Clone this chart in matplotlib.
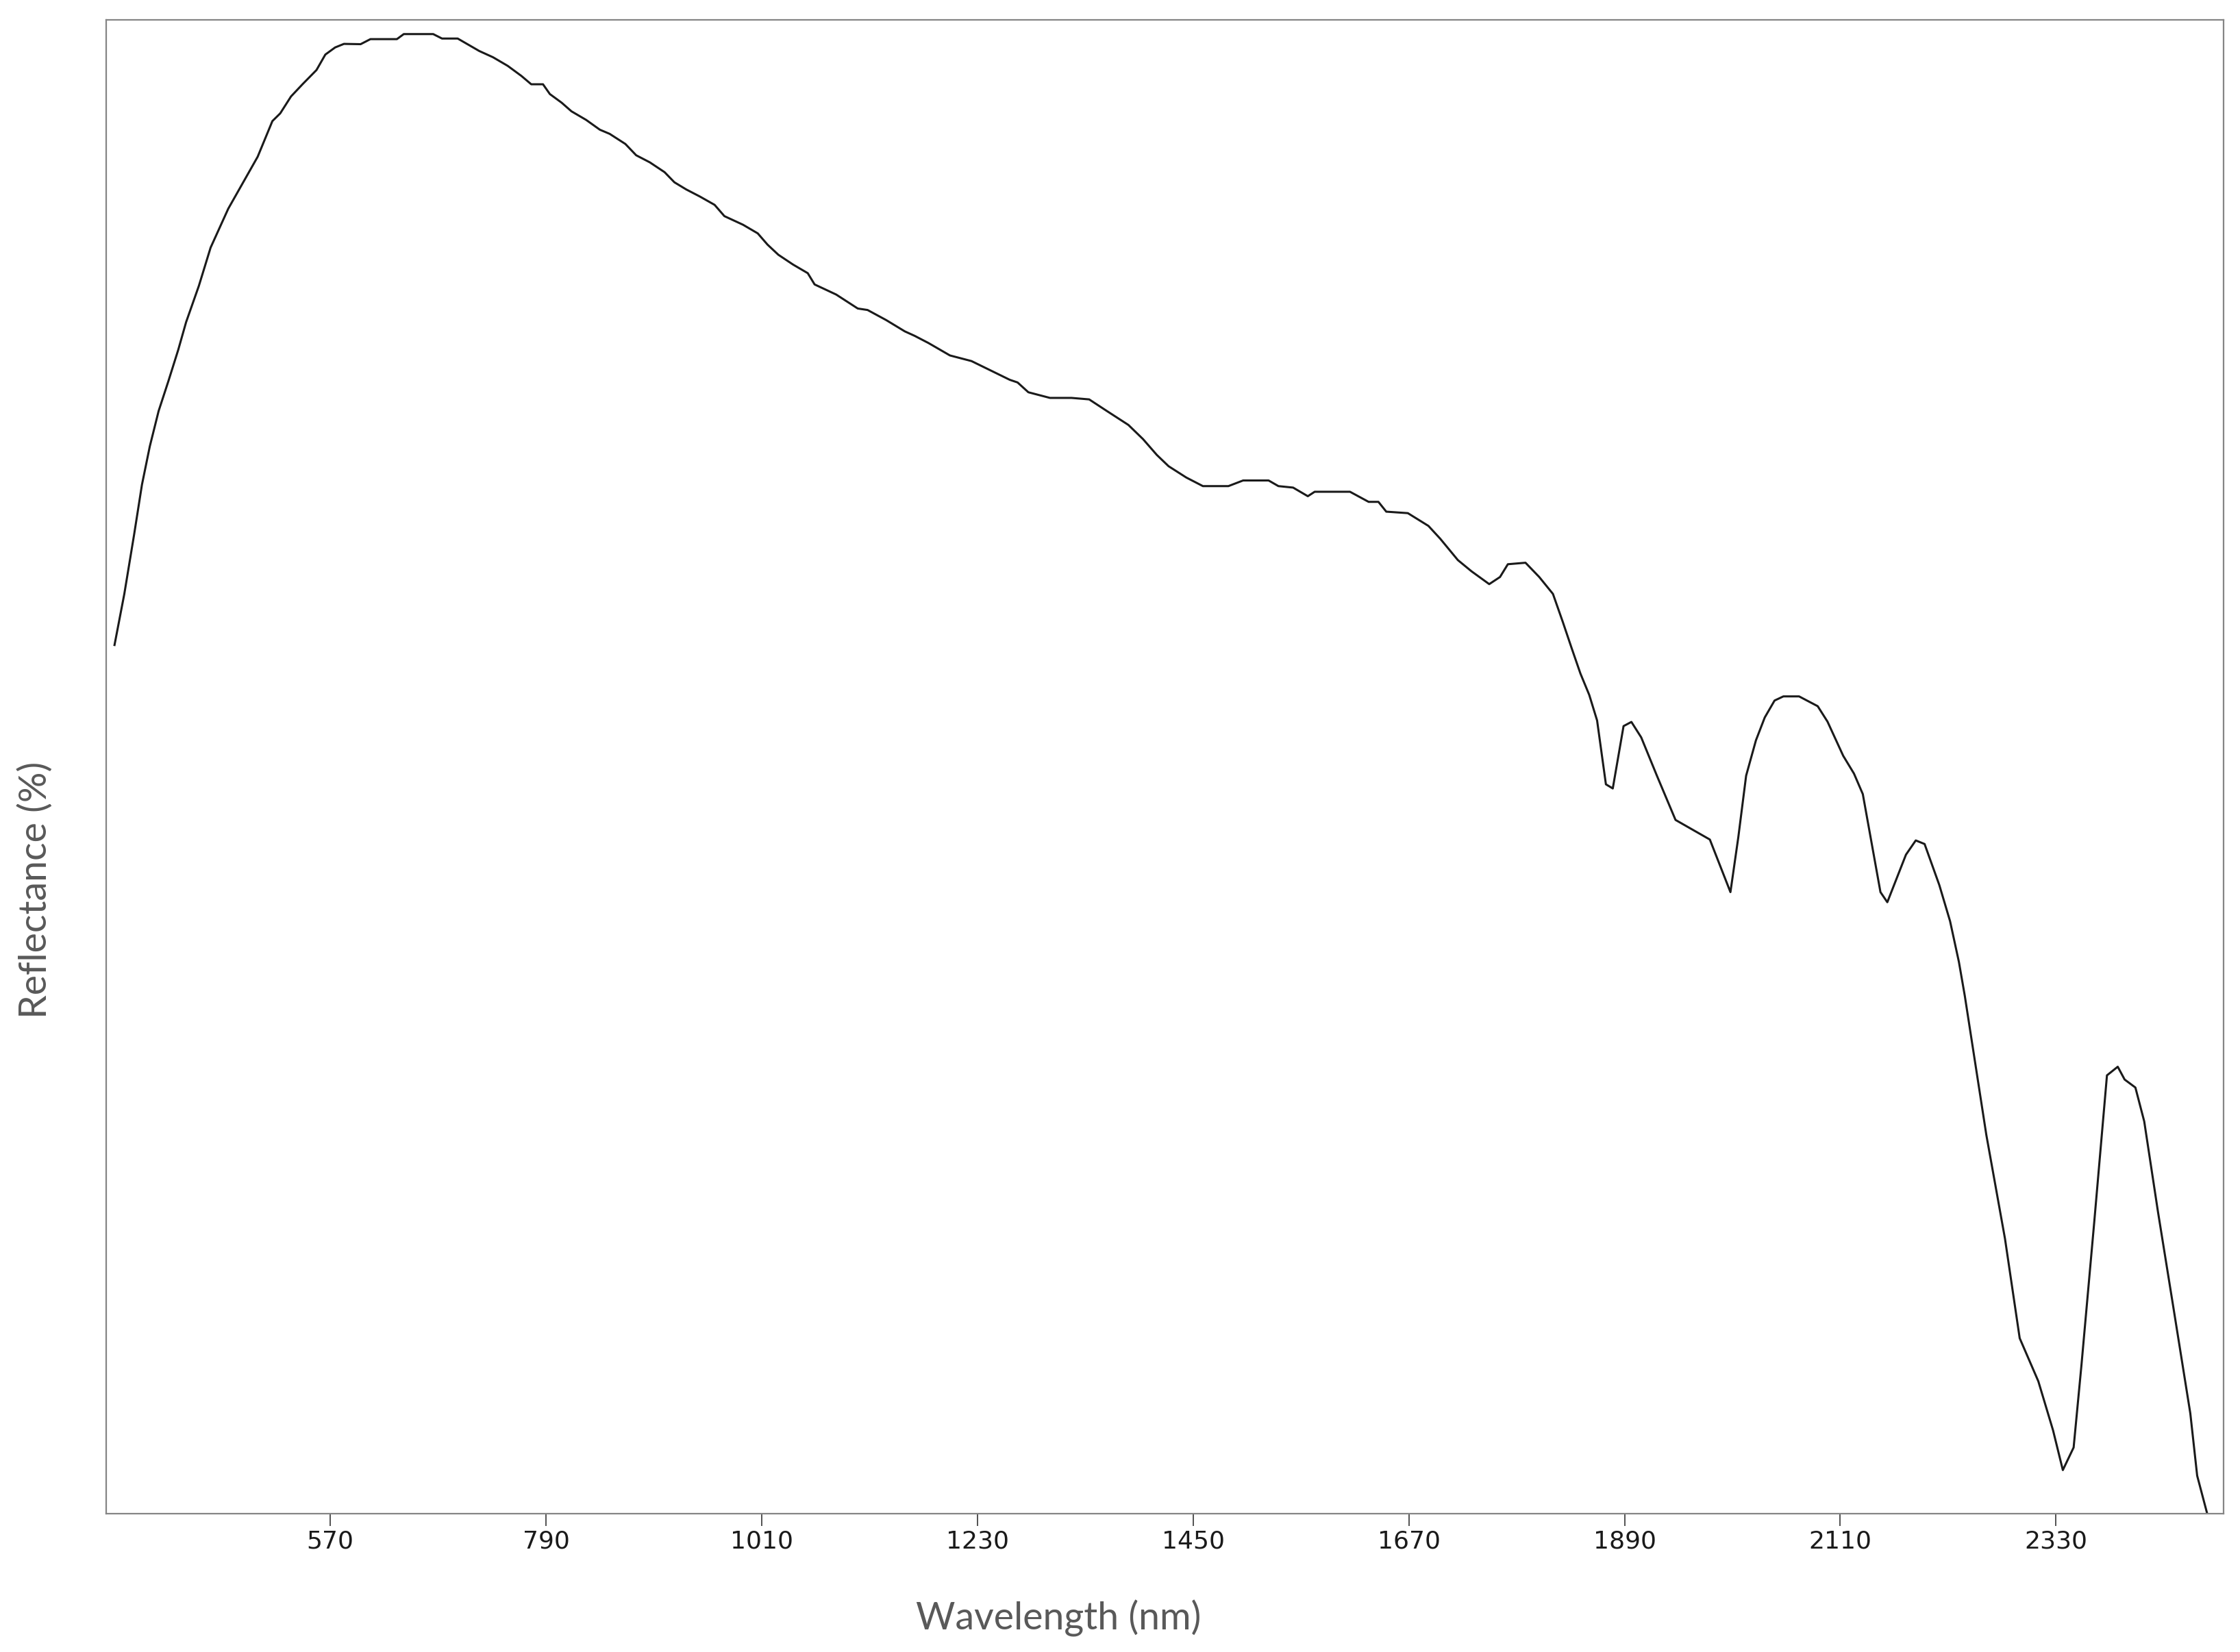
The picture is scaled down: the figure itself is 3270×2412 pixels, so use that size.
import numpy as np
import matplotlib.pyplot as plt

# reflectance spectrum (wavelength in nm, reflectance in %)
wavelength = [350, 360, 370, 378, 386, 395, 405, 415, 423, 436, 448, 466, 478, 496,
              511, 519, 530, 542, 556, 565, 575, 584, 601, 611, 638, 645, 675, 684,
              700, 722, 736, 751, 765, 775, 787, 794, 806, 816, 831, 845, 855, 871,
              882, 896, 911, 921, 933, 947, 962, 972, 991, 1006, 1016, 1027, 1042,
              1057, 1064, 1086, 1108, 1118, 1137, 1156, 1166, 1180, 1202, 1224, 1242,
              1263, 1271, 1282, 1304, 1326, 1344, 1362, 1384, 1399, 1413, 1425, 1443,
              1460, 1486, 1501, 1527, 1537, 1552, 1567, 1574, 1610, 1629, 1639, 1647,
              1669, 1690, 1702, 1720, 1734, 1752, 1763, 1771, 1789, 1803, 1817, 1827,
              1836, 1845, 1854, 1862, 1871, 1878, 1889, 1897, 1907, 1923, 1942, 1977,
              1998, 2006, 2014, 2024, 2033, 2043, 2052, 2068, 2087, 2097, 2113, 2124,
              2133, 2151, 2158, 2177, 2187, 2196, 2211, 2222, 2231, 2237, 2248, 2259,
              2278, 2293, 2312, 2327, 2337, 2348, 2356, 2369, 2382, 2393, 2400,
              2411, 2420, 2434, 2450, 2467, 2474, 2484, 2495]
reflectance = [39.25, 40.97, 42.97, 44.65, 45.94, 47.13, 48.14, 49.19, 50.12, 51.34,
               52.63, 53.94, 54.64, 55.69, 56.89, 57.15, 57.72, 58.14, 58.61, 59.13,
               59.37, 59.49, 59.48, 59.65, 59.65, 59.82, 59.82, 59.67, 59.67, 59.25,
               59.04, 58.75, 58.41, 58.13, 58.13, 57.80, 57.51, 57.22, 56.93, 56.60,
               56.46, 56.12, 55.74, 55.50, 55.17, 54.83, 54.59, 54.35, 54.07, 53.69,
               53.40, 53.11, 52.73, 52.39, 52.06, 51.77, 51.39, 51.05, 50.58, 50.53,
               50.19, 49.81, 49.66, 49.42, 49.00, 48.81, 48.52, 48.18, 48.09, 47.76,
               47.57, 47.57, 47.52, 47.13, 46.66, 46.18, 45.65, 45.27, 44.89, 44.60,
               44.60, 44.79, 44.79, 44.60, 44.55, 44.26, 44.41, 44.41, 44.07, 44.07,
               43.74, 43.69, 43.26, 42.83, 42.11, 41.73, 41.30, 41.54, 41.97, 42.02,
               41.54, 40.97, 40.03, 39.15, 38.29, 37.57, 36.71, 34.56, 34.42, 36.52,
               36.66, 36.14, 34.85, 33.36, 32.70, 30.93, 32.77, 34.85, 36.04, 36.81,
               37.38, 37.52, 37.52, 37.19, 36.67, 35.52, 34.92, 34.23, 30.93, 30.59,
               32.19, 32.67, 32.55, 31.17, 29.95, 28.58, 27.44, 25.09, 22.75, 19.26,
               15.91, 14.46, 12.81, 11.47, 12.23, 15.01, 19.81, 24.76, 25.05,
               24.62, 24.35, 23.21, 20.17, 16.89, 13.38, 11.28, 10.03, 9.0]
xticks = [570, 790, 1010, 1230, 1450, 1670, 1890, 2110, 2330]

fig = plt.figure(figsize=(32.7, 24.12), dpi=100)
ax = fig.add_axes([0.0474, 0.0837, 0.9453, 0.9043])

ax.plot(wavelength, reflectance, color='#1a1a1a', linewidth=2.2)

ax.set_xlim(341.5, 2501)
ax.set_ylim(10, 60.3)
ax.set_xticks(xticks)
ax.set_xticklabels([str(t) for t in xticks], fontsize=26, family='DejaVu Sans', color='#1a1a1a')
ax.set_yticks([])
ax.tick_params(axis='x', direction='out', length=13, width=1.2, color='#333333', pad=4)
for s in ax.spines.values():
    s.set_color('#858585')
    s.set_linewidth(1.6)

fig.text(0.4725, 0.0203, 'Wavelength (nm)', ha='center', va='center',
         fontsize=40, family='Lato', color='#595959')
fig.text(0.0159, 0.4614, 'Reflectance (%)', ha='center', va='center', rotation=90,
         fontsize=40, family='Lato', color='#595959')

plt.savefig('out.png', dpi=100)
